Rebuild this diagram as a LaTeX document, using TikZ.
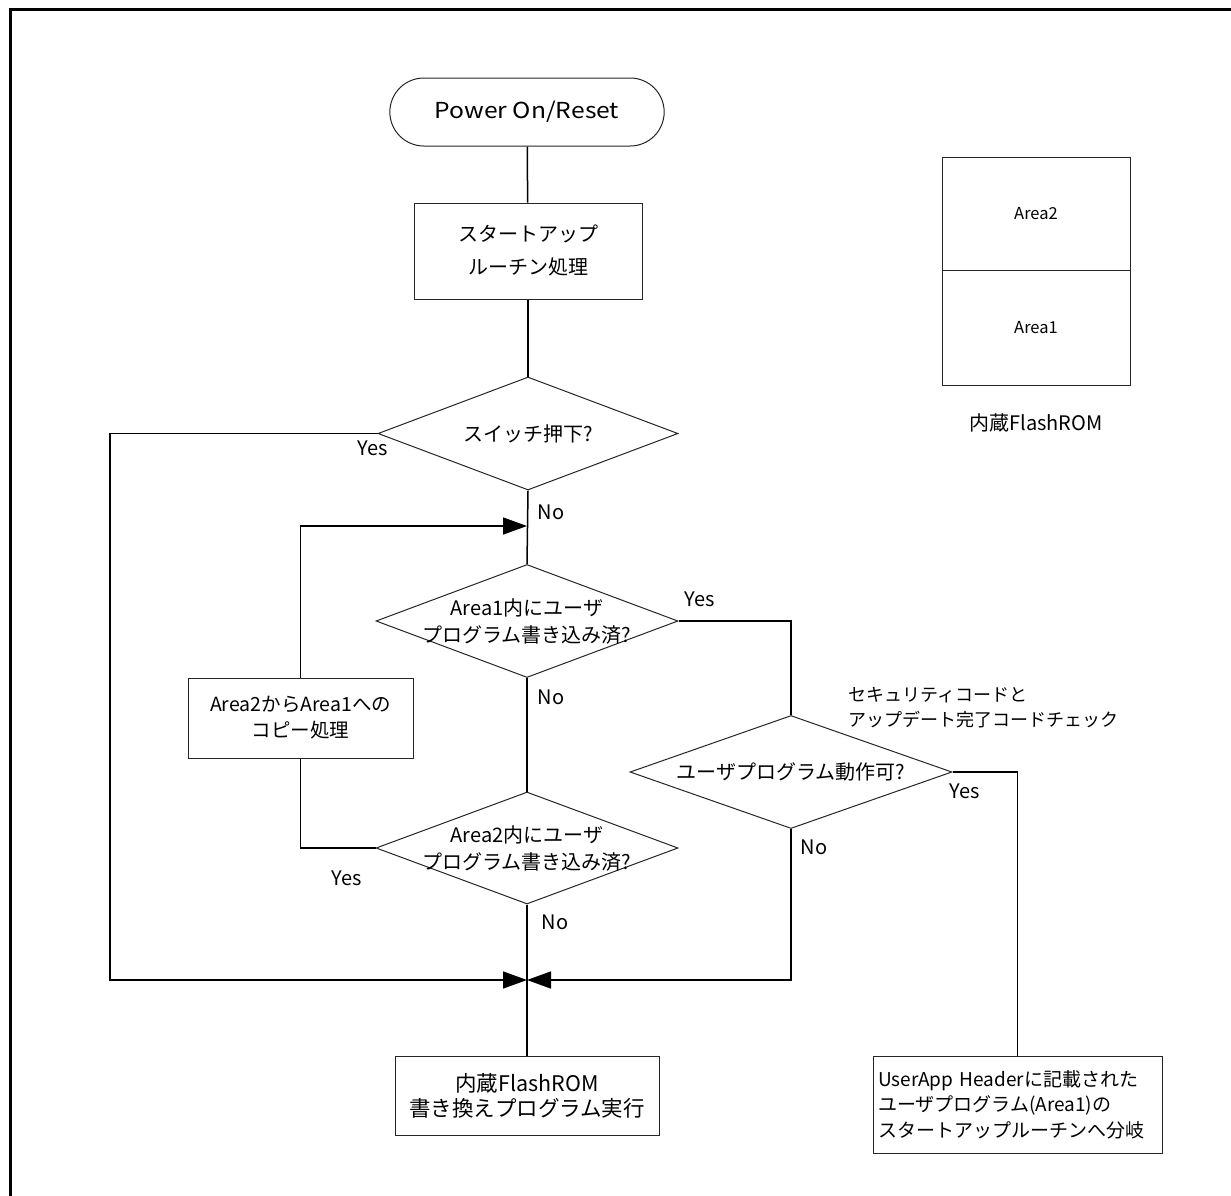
\documentclass[tikz,border=0pt]{standalone}
\usepackage{fontspec}
\setmainfont{Noto Sans CJK JP}
\newfontfamily\widesans{Noto Sans CJK JP}[FakeStretch=1.12]
\usetikzlibrary{shapes.geometric,shapes.misc,arrows.meta}

\begin{document}
\begin{tikzpicture}[x=1pt,y=-1pt,
  conn/.style={line width=1.5pt,draw=black},
  outl/.style={draw=black!85,line width=1pt},
  procbox/.style={outl,rectangle,inner sep=0pt,align=center,font=\fontsize{20}{26}\selectfont},
  decision/.style={outl,diamond,inner sep=0pt},
  dtext/.style={align=center,font=\fontsize{20}{27}\selectfont,inner sep=0pt},
  tag/.style={font=\fontsize{20}{22}\selectfont,inner sep=0pt},
  tip/.style={-{Triangle[length=24pt,width=17pt]}}
]
\useasboundingbox (0,0) rectangle (1231,1195);
\fill[white] (0,0) rectangle (1231,1195);

% page frame (only its top and left edges fall inside the sheet)
\draw[line width=3pt] (10,1210) -- (10,9) -- (1245,9);

% ---- main flow ----
\node[outl,rounded rectangle,minimum width=281pt,minimum height=68pt,
      font=\widesans\fontsize{22}{26}\selectfont] (pwr) at (527,112) {Power On/Reset};

\node[procbox,minimum width=228pt,minimum height=96pt,
      font=\fontsize{20}{33}\selectfont] (start) at (528,251)
  {スタートアップ\\ルーチン処理};

\node[decision,minimum width=300pt,minimum height=113pt,
      label={[dtext]center:{スイッチ押下?}}] (d1) at (528,433.5) {};

\node[decision,minimum width=302pt,minimum height=113pt,
      label={[dtext]center:{Area1内にユーザ\\プログラム書き込み済?}}] (d2) at (527,621) {};

\node[decision,minimum width=322pt,minimum height=113pt,
      label={[dtext]center:{ユーザプログラム動作可?}}] (d3) at (791,772) {};

\node[decision,minimum width=302pt,minimum height=112pt,
      label={[dtext]center:{Area2内にユーザ\\プログラム書き込み済?}}] (d4) at (527,848) {};

\node[procbox,minimum width=225pt,minimum height=80pt,
      font=\fontsize{19.5}{26}\selectfont] (copy) at (300.5,718)
  {Area2からArea1への\\コピー処理};

\node[procbox,minimum width=264pt,minimum height=79pt,
      font=\fontsize{21.5}{25}\selectfont] (rewrite) at (527,1095.5)
  {内蔵FlashROM\\書き換えプログラム実行};

\node[procbox,text width=279pt,inner xsep=5pt,minimum height=97pt,align=left,
      font=\fontsize{19}{25.5}\selectfont] (jump) at (1017.5,1104.5)
  {UserApp Headerに記載された\\ユーザプログラム(Area1)の\\スタートアップルーチンへ分岐};

\node[anchor=west,align=left,inner sep=0pt,font=\fontsize{18}{25}\selectfont]
  (chk) at (848,707.5) {セキュリティコードと\\アップデート完了コードチェック};

% ---- built-in flash memory map ----
\node[outl,rectangle,minimum width=188pt,minimum height=113pt,inner sep=0pt,
      font=\fontsize{16.5}{18}\selectfont] (a2) at (1036,213.5) {Area2};
\node[outl,rectangle,minimum width=188pt,minimum height=115pt,inner sep=0pt,
      font=\fontsize{16.5}{18}\selectfont] (a1) at (1036,327.5) {Area1};
\node[font=\fontsize{20}{24}\selectfont,inner sep=0pt] (rom) at (1036,423) {内蔵FlashROM};

% ---- branch labels ----
\node[tag] (y1) at (373,448) {Yes};
\node[tag] (n1) at (551,512) {No};
\node[tag] (y2) at (700,599) {Yes};
\node[tag] (n2) at (551,697) {No};
\node[tag] (y3) at (965,791) {Yes};
\node[tag] (n3) at (814,847) {No};
\node[tag] (y4) at (347,878) {Yes};
\node[tag] (n4) at (555,922) {No};

% ---- connectors ----
\coordinate (m1) at (527,526);
\coordinate (m2) at (527,980);
\coordinate (c1) at (110,980);

\draw[conn] (pwr) -- (start);
\draw[conn] (start) -- (d1);
\draw[conn] (d1.south) -- (d2.north);
\draw[conn] (d2.south) -- (d4.north);
\draw[conn] (d4.south) -- (rewrite.north);
\draw[conn,tip] (copy.north) |- (m1);
\draw[conn] (copy.south) |- (d4.west);
\draw[conn] (d2.east) -| (d3.north);
\draw[conn] (d3.east) -| (jump.north);
\draw[conn,tip] (d1.west) -| (c1) -- (m2);
\draw[conn,tip] (d3.south) |- (m2);
\end{tikzpicture}
\end{document}
